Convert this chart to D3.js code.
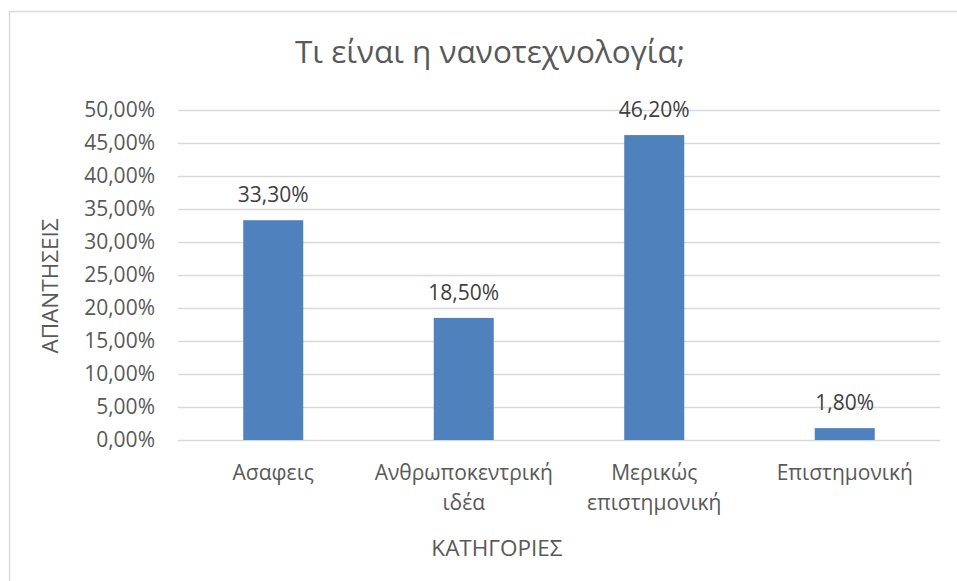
<!DOCTYPE html>
<html>
<head>
<meta charset="utf-8">
<script src="https://cdn.jsdelivr.net/npm/d3@7/dist/d3.min.js"></script>
<style>
  body { margin: 0; background: #fff; }
  text { font-family: "Open Sans", "Noto Sans", sans-serif; }
</style>
</head>
<body>
<svg id="chart"></svg>
<script>
let categories = [["Ασαφεις"], ["Ανθρωποκεντρική", "ιδέα"], ["Μερικώς", "επιστημονική"], ["Επιστημονική"]]
let values = [33.3, 18.5, 46.2, 1.8]
let yTicks = [0, 5, 10, 15, 20, 25, 30, 35, 40, 45, 50]
let title = "Τι είναι η νανοτεχνολογία;"
let yTitle = "ΑΠΑΝΤΗΣΕΙΣ"
let xTitle = "ΚΑΤΗΓΟΡΙΕΣ"

let width = 957
let height = 581
let plotLeft = 178, plotRight = 940, plotTop = 110, plotBottom = 440

let svg = d3.select('#chart')
    .attr('width', width)
    .attr('height', height)

let fmt = (v) => v.toFixed(2).replace('.', ',') + '%'

// chart frame
svg.append('rect')
   .attr('x', 9.5).attr('y', 11.5)
   .attr('width', width).attr('height', height)
   .attr('fill', 'none')
   .attr('stroke', '#d9d9d9')
   .attr('stroke-width', 1.5)

let xScale = d3.scaleBand()
    .domain(d3.range(categories.length))
    .range([plotLeft, plotRight])
    .paddingInner(0.685)
    .paddingOuter(0.3425)

let yScale = d3.scaleLinear()
    .domain([0, 50])
    .range([plotBottom, plotTop])

// gridlines + y labels
let yAxis = d3.axisLeft(yScale)
    .tickValues(yTicks)
    .tickSize(-(plotRight - plotLeft))
    .tickPadding(23)
    .tickFormat(fmt)

let gy = svg.append('g')
    .attr('transform', 'translate(' + plotLeft + ',0)')
    .call(yAxis)
gy.select('.domain').remove()
gy.selectAll('line').attr('stroke', '#d9d9d9').attr('stroke-width', 1.5)
gy.selectAll('text')
  .attr('fill', '#595959')
  .style('font-size', '21px')

// bars
svg.selectAll('rect.bar')
   .data(values)
   .enter()
   .append('rect')
   .attr('class', 'bar')
   .attr('x', (d, i) => xScale(i))
   .attr('width', xScale.bandwidth())
   .attr('y', (d) => yScale(d))
   .attr('height', (d) => plotBottom - yScale(d))
   .attr('fill', '#4f81bd')

// value labels
svg.selectAll('text.val')
   .data(values)
   .enter()
   .append('text')
   .attr('class', 'val')
   .attr('x', (d, i) => xScale(i) + xScale.bandwidth() / 2)
   .attr('y', (d) => yScale(d) - 18)
   .attr('text-anchor', 'middle')
   .attr('fill', '#404040')
   .style('font-size', '21px')
   .text((d) => fmt(d))

// category labels
let cat = svg.selectAll('text.cat')
   .data(categories)
   .enter()
   .append('text')
   .attr('class', 'cat')
   .attr('text-anchor', 'middle')
   .attr('fill', '#595959')
   .style('font-size', '21px')
cat.each(function(d, i) {
    let t = d3.select(this)
    d.forEach((line, j) => {
        t.append('tspan')
         .attr('x', xScale(i) + xScale.bandwidth() / 2)
         .attr('y', plotBottom + 40 + j * 30)
         .text(line)
    })
})

// titles
svg.append('text')
   .attr('x', 490).attr('y', 63)
   .attr('text-anchor', 'middle')
   .attr('fill', '#595959')
   .style('font-size', '31.5px')
   .text(title)

svg.append('text')
   .attr('transform', 'translate(58,286) rotate(-90)')
   .attr('text-anchor', 'middle')
   .attr('fill', '#595959')
   .style('font-size', '22.5px')
   .text(yTitle)

svg.append('text')
   .attr('x', 497).attr('y', 556)
   .attr('text-anchor', 'middle')
   .attr('fill', '#595959')
   .style('font-size', '22.5px')
   .text(xTitle)
</script>
</body>
</html>
